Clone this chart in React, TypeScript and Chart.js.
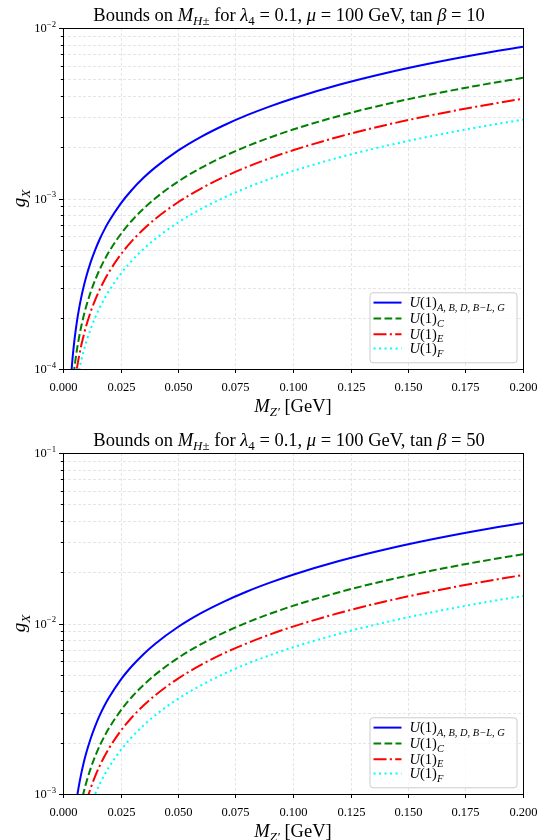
import { useEffect, useRef } from 'react';
import { Chart, registerables } from 'chart.js';

Chart.register(...registerables);

// ---------------- data ----------------
const X_VALUES = [
  0.003, 0.004, 0.005, 0.006, 0.007, 0.008, 0.009, 0.01, 0.012, 0.014, 0.016, 0.018, 0.02,
  0.025, 0.03, 0.035, 0.04, 0.05, 0.06, 0.07, 0.08, 0.09, 0.1, 0.12, 0.14, 0.16, 0.18, 0.2,
];

// tan beta = 10
const TOP_ABD = [
  7.04e-5, 1.095e-4, 1.486e-4, 1.877e-4, 2.268e-4, 2.659e-4, 3.05e-4, 3.44e-4, 4.22e-4, 5.0e-4,
  5.79e-4, 6.57e-4, 7.35e-4, 9.31e-4, 1.126e-3, 1.322e-3, 1.517e-3, 1.908e-3, 2.299e-3, 2.69e-3,
  3.081e-3, 3.472e-3, 3.863e-3, 4.645e-3, 5.427e-3, 6.209e-3, 6.991e-3, 7.773e-3,
];
const TOP_C = [
  5.13e-5, 7.69e-5, 1.025e-4, 1.282e-4, 1.538e-4, 1.794e-4, 2.05e-4, 2.307e-4, 2.819e-4, 3.332e-4,
  3.845e-4, 4.357e-4, 4.87e-4, 6.151e-4, 7.433e-4, 8.714e-4, 9.996e-4, 1.256e-3, 1.512e-3, 1.768e-3,
  2.025e-3, 2.281e-3, 2.537e-3, 3.05e-3, 3.563e-3, 4.075e-3, 4.588e-3, 5.1e-3,
];
const TOP_E = [
  4.19e-5, 6.13e-5, 8.06e-5, 9.99e-5, 1.193e-4, 1.386e-4, 1.579e-4, 1.773e-4, 2.159e-4, 2.546e-4,
  2.932e-4, 3.319e-4, 3.706e-4, 4.672e-4, 5.639e-4, 6.605e-4, 7.572e-4, 9.505e-4, 1.144e-3, 1.337e-3,
  1.53e-3, 1.724e-3, 1.917e-3, 2.304e-3, 2.69e-3, 3.077e-3, 3.463e-3, 3.85e-3,
];
const TOP_F = [
  4.07e-5, 5.52e-5, 6.97e-5, 8.42e-5, 9.87e-5, 1.133e-4, 1.278e-4, 1.423e-4, 1.713e-4, 2.004e-4,
  2.294e-4, 2.585e-4, 2.875e-4, 3.601e-4, 4.327e-4, 5.053e-4, 5.779e-4, 7.231e-4, 8.683e-4, 1.013e-3,
  1.159e-3, 1.304e-3, 1.449e-3, 1.74e-3, 2.03e-3, 2.32e-3, 2.611e-3, 2.901e-3,
];

// tan beta = 50
const BOT_ABD = [
  3.52e-4, 5.48e-4, 7.43e-4, 9.39e-4, 1.134e-3, 1.33e-3, 1.525e-3, 1.72e-3, 2.11e-3, 2.5e-3,
  2.9e-3, 3.29e-3, 3.68e-3, 4.66e-3, 5.63e-3, 6.61e-3, 7.59e-3, 9.54e-3, 1.15e-2, 1.345e-2,
  1.541e-2, 1.736e-2, 1.932e-2, 2.323e-2, 2.714e-2, 3.105e-2, 3.496e-2, 3.887e-2,
];
const BOT_C = [
  2.57e-4, 3.85e-4, 5.13e-4, 6.41e-4, 7.69e-4, 8.97e-4, 1.025e-3, 1.154e-3, 1.41e-3, 1.666e-3,
  1.923e-3, 2.179e-3, 2.435e-3, 3.076e-3, 3.717e-3, 4.357e-3, 4.998e-3, 6.28e-3, 7.56e-3, 8.84e-3,
  1.013e-2, 1.141e-2, 1.269e-2, 1.525e-2, 1.782e-2, 2.038e-2, 2.294e-2, 2.55e-2,
];
const BOT_E = [
  2.1e-4, 3.07e-4, 4.03e-4, 5.0e-4, 5.97e-4, 6.93e-4, 7.9e-4, 8.87e-4, 1.08e-3, 1.273e-3,
  1.466e-3, 1.66e-3, 1.853e-3, 2.336e-3, 2.82e-3, 3.303e-3, 3.786e-3, 4.753e-3, 5.72e-3, 6.69e-3,
  7.65e-3, 8.62e-3, 9.59e-3, 1.152e-2, 1.345e-2, 1.539e-2, 1.732e-2, 1.925e-2,
];
const BOT_F = [
  2.04e-4, 2.76e-4, 3.49e-4, 4.21e-4, 4.94e-4, 5.67e-4, 6.39e-4, 7.12e-4, 8.57e-4, 1.002e-3,
  1.147e-3, 1.293e-3, 1.438e-3, 1.801e-3, 2.164e-3, 2.527e-3, 2.89e-3, 3.616e-3, 4.342e-3, 5.07e-3,
  5.8e-3, 6.52e-3, 7.25e-3, 8.7e-3, 1.015e-2, 1.16e-2, 1.306e-2, 1.451e-2,
];

const X_TICKS = [0, 0.025, 0.05, 0.075, 0.1, 0.125, 0.15, 0.175, 0.2];
const X_TICK_LABELS = ['0.000', '0.025', '0.050', '0.075', '0.100', '0.125', '0.150', '0.175', '0.200'];

const TOP_DECADES = [1e-4, 1e-3, 1e-2];
const TOP_DECADE_EXPS = ['−4', '−3', '−2'];
const BOT_DECADES = [1e-3, 1e-2, 1e-1];
const BOT_DECADE_EXPS = ['−3', '−2', '−1'];
const MINOR_MULTS = [2, 3, 4, 5, 6, 7, 8, 9];

type Seg = { t: string; it?: boolean; sub?: boolean; sup?: boolean };

const LEGEND_LABELS: Seg[][] = [
  [{ t: 'U', it: true }, { t: '(1)' }, { t: 'A, B, D, B−L, G', it: true, sub: true }],
  [{ t: 'U', it: true }, { t: '(1)' }, { t: 'C', it: true, sub: true }],
  [{ t: 'U', it: true }, { t: '(1)' }, { t: 'E', it: true, sub: true }],
  [{ t: 'U', it: true }, { t: '(1)' }, { t: 'F', it: true, sub: true }],
];

// ---------------- styles ----------------
const SERIES_STYLE = [
  { color: '#0000ff', dash: [] as number[] },
  { color: '#008000', dash: [7.7, 3.3] },
  { color: '#ff0000', dash: [13, 3.3, 2.1, 3.3] },
  { color: '#00ffff', dash: [2.1, 3.4] },
];
const LINE_W = 2;
const FONT = '"Liberation Serif", "DejaVu Serif", serif';

function drawRich(ctx: CanvasRenderingContext2D, segs: Seg[], x: number, y: number, size: number, align: 'left' | 'center' | 'right', subScale = 0.7) {
  const parts = segs.map((s) => {
    const sz = s.sub || s.sup ? size * subScale : size;
    const font = `${s.it ? 'italic ' : ''}${sz}px ${FONT}`;
    ctx.font = font;
    const w = ctx.measureText(s.t).width;
    const dy = s.sub ? size * 0.24 : s.sup ? -size * 0.42 : 0;
    return { t: s.t, font, w, dy };
  });
  const total = parts.reduce((a, p) => a + p.w, 0);
  let cx = align === 'center' ? x - total / 2 : align === 'right' ? x - total : x;
  ctx.textAlign = 'left';
  ctx.textBaseline = 'alphabetic';
  for (const p of parts) {
    ctx.font = p.font;
    ctx.fillText(p.t, cx, y + p.dy);
    cx += p.w;
  }
}

function titleSegs(tb: string): Seg[] {
  return [
    { t: 'Bounds on ' },
    { t: 'M', it: true },
    { t: 'H', it: true, sub: true },
    { t: '±', sub: true },
    { t: ' for ' },
    { t: 'λ', it: true },
    { t: '4', sub: true },
    { t: ' = 0.1, ' },
    { t: 'μ', it: true },
    { t: ' = 100 GeV, tan ' },
    { t: 'β', it: true },
    { t: ' = ' + tb },
  ];
}

type PanelProps = {
  series: number[][];
  decades: number[];
  exps: string[];
  tanb: string;
  padTop: number;
  padBottom: number;
};

function Panel({ series, decades, exps, tanb, padTop, padBottom }: PanelProps) {
  const ref = useRef<HTMLCanvasElement | null>(null);

  useEffect(() => {
    const canvas = ref.current;
    if (!canvas) return;
    const yMin = decades[0];
    const yMax = decades[decades.length - 1];
    const yTicks: { v: number; major: boolean }[] = [];
    decades.forEach((d, i) => {
      yTicks.push({ v: d, major: true });
      if (i < decades.length - 1) MINOR_MULTS.forEach((m) => yTicks.push({ v: m * d, major: false }));
    });

    const deco = {
      id: 'deco',
      beforeDatasetsDraw(chart: any) {
        const { ctx, chartArea: ca, scales } = chart;
        ctx.save();
        ctx.strokeStyle = '#dedede';
        ctx.lineWidth = 0.8;
        ctx.setLineDash([3, 2]);
        for (const v of X_TICKS) {
          const px = Math.round(scales.x.getPixelForValue(v)) + 0.5;
          ctx.beginPath();
          ctx.moveTo(px, ca.top);
          ctx.lineTo(px, ca.bottom);
          ctx.stroke();
        }
        for (const t of yTicks) {
          const py = Math.round(scales.y.getPixelForValue(t.v)) + 0.5;
          ctx.beginPath();
          ctx.moveTo(ca.left, py);
          ctx.lineTo(ca.right, py);
          ctx.stroke();
        }
        ctx.restore();
      },
      afterDatasetsDraw(chart: any) {
        const { ctx, chartArea: ca, scales } = chart;
        ctx.save();
        // spines
        ctx.strokeStyle = '#000';
        ctx.lineWidth = 1;
        ctx.setLineDash([]);
        ctx.strokeRect(Math.round(ca.left) + 0.5, Math.round(ca.top) + 0.5, Math.round(ca.right - ca.left), Math.round(ca.bottom - ca.top));
        // x ticks
        ctx.fillStyle = '#000';
        for (let i = 0; i < X_TICKS.length; i++) {
          const px = Math.round(scales.x.getPixelForValue(X_TICKS[i])) + 0.5;
          ctx.beginPath();
          ctx.moveTo(px, ca.bottom);
          ctx.lineTo(px, ca.bottom + 4);
          ctx.stroke();
          ctx.font = `12.5px ${FONT}`;
          ctx.textAlign = 'center';
          ctx.textBaseline = 'alphabetic';
          ctx.fillText(X_TICK_LABELS[i], px, ca.bottom + 21.5);
        }
        // y ticks
        for (const t of yTicks) {
          const py = Math.round(scales.y.getPixelForValue(t.v)) + 0.5;
          ctx.beginPath();
          ctx.moveTo(ca.left - (t.major ? 4 : 2.2), py);
          ctx.lineTo(ca.left, py);
          ctx.stroke();
        }
        decades.forEach((d, i) => {
          const py = scales.y.getPixelForValue(d);
          drawRich(ctx, [{ t: '10' }, { t: exps[i], sup: true }], ca.left - 7, py + 4, 12.5, 'right');
        });
        // axis titles
        const cx = (ca.left + ca.right) / 2;
        drawRich(ctx, [{ t: 'M', it: true }, { t: 'Z′', it: true, sub: true }, { t: ' [GeV]' }], cx, ca.bottom + 43, 18.5, 'center');
        ctx.save();
        ctx.translate(25, (ca.top + ca.bottom) / 2);
        ctx.rotate(-Math.PI / 2);
        drawRich(ctx, [{ t: 'g', it: true }, { t: 'X', it: true, sub: true }], 0, 0, 19, 'center');
        ctx.restore();
        // title
        drawRich(ctx, titleSegs(tanb), cx - 4, ca.top - 7.5, 18.5, 'center');
        // legend
        const bw = 147;
        const bh = 70;
        const bx = ca.right - 6.5 - bw;
        const by = ca.bottom - 6.7 - bh;
        ctx.beginPath();
        ctx.roundRect(bx + 0.5, by + 0.5, bw, bh, 3);
        ctx.fillStyle = 'rgba(255,255,255,0.8)';
        ctx.fill();
        ctx.strokeStyle = '#cccccc';
        ctx.lineWidth = 1;
        ctx.stroke();
        const rows = [10.3, 26.3, 42, 56.3];
        rows.forEach((ry, i) => {
          const st = SERIES_STYLE[i];
          ctx.strokeStyle = st.color;
          ctx.lineWidth = LINE_W;
          ctx.lineCap = 'butt';
          ctx.setLineDash(st.dash);
          ctx.beginPath();
          ctx.moveTo(bx + 4, by + ry);
          ctx.lineTo(bx + 32, by + ry);
          ctx.stroke();
          ctx.setLineDash([]);
          ctx.fillStyle = '#000';
          drawRich(ctx, LEGEND_LABELS[i], bx + 40, by + ry + 4.5, 14.5, 'left', 0.72);
        });
        ctx.restore();
      },
    };

    const chart = new Chart(canvas, {
      type: 'line',
      data: {
        datasets: series.map((arr, i) => ({
          data: X_VALUES.map((x, j) => ({ x, y: arr[j] })),
          borderColor: SERIES_STYLE[i].color,
          borderDash: SERIES_STYLE[i].dash,
          borderWidth: LINE_W,
          borderCapStyle: 'butt' as const,
          borderJoinStyle: 'round' as const,
          pointRadius: 0,
          fill: false,
          cubicInterpolationMode: 'monotone' as const,
        })),
      },
      options: {
        animation: false,
        responsive: false,
        maintainAspectRatio: false,
        layout: { padding: { left: 63, right: 29, top: padTop, bottom: padBottom } },
        plugins: { legend: { display: false }, tooltip: { enabled: false }, title: { display: false } },
        events: [],
        scales: {
          x: { type: 'linear', min: 0, max: 0.2, display: false },
          y: { type: 'logarithmic', min: yMin, max: yMax, display: false },
        },
      },
      plugins: [deco],
    } as any);
    return () => chart.destroy();
  }, [series, decades, exps, tanb, padTop, padBottom]);

  return <canvas ref={ref} width={552} height={420} style={{ display: 'block', width: 552, height: 420 }} />;
}

const TOP_SERIES = [TOP_ABD, TOP_C, TOP_E, TOP_F];
const BOT_SERIES = [BOT_ABD, BOT_C, BOT_E, BOT_F];

export default function App() {
  useEffect(() => {
    document.body.style.margin = '0';
  }, []);
  return (
    <div style={{ width: 552, height: 840, background: '#fff', margin: 0 }}>
      <Panel series={TOP_SERIES} decades={TOP_DECADES} exps={TOP_DECADE_EXPS} tanb="10" padTop={28} padBottom={51} />
      <Panel series={BOT_SERIES} decades={BOT_DECADES} exps={BOT_DECADE_EXPS} tanb="50" padTop={33} padBottom={46} />
    </div>
  );
}
